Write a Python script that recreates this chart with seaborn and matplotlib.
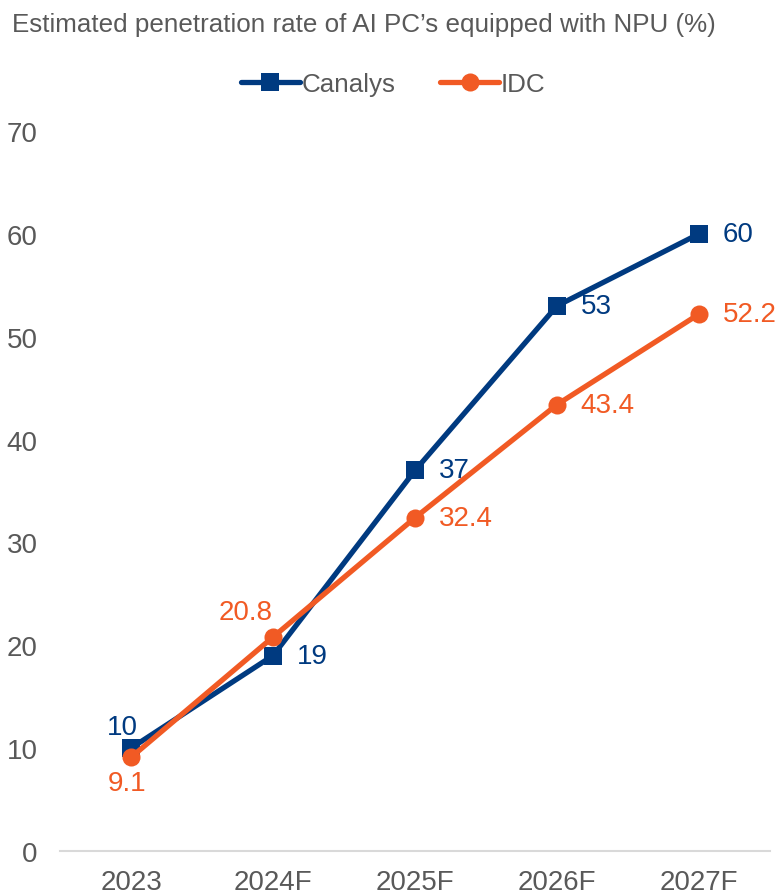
import pandas as pd
import matplotlib.pyplot as plt
import seaborn as sns

years = ["2023", "2024F", "2025F", "2026F", "2027F"]
canalys = [10, 19, 37, 53, 60]
idc = [9.1, 20.8, 32.4, 43.4, 52.2]

NAVY = "#003A80"
ORANGE = "#F15A24"
GREY = "#595959"

sns.set_style("white")
plt.rcParams['font.family'] = ['Liberation Sans', 'DejaVu Sans']

df = pd.DataFrame({"year": years, "Canalys": canalys, "IDC": idc})

fig = plt.figure(figsize=(7.76, 8.95), dpi=100)
ax = fig.add_axes([60 / 776, 43 / 895, 710 / 776, 720 / 895])

sns.lineplot(data=df, x="year", y="Canalys", ax=ax, color=NAVY, linewidth=3.8,
             marker="s", markersize=12.5, markeredgewidth=0, label="Canalys", sort=False)
sns.lineplot(data=df, x="year", y="IDC", ax=ax, color=ORANGE, linewidth=3.8,
             marker="o", markersize=13, markeredgewidth=0, label="IDC", sort=False)

# data labels
LBL = 20
for i, v in enumerate(canalys):
    if i == 0:
        ax.annotate(f"{v:g}", (i, v), xytext=(-6, 6), textcoords="offset points",
                    ha="center", va="bottom", fontsize=LBL, color=NAVY)
    else:
        ax.annotate(f"{v:g}", (i, v), xytext=(17, 0), textcoords="offset points",
                    ha="left", va="center", fontsize=LBL, color=NAVY)
for i, v in enumerate(idc):
    if i == 0:
        ax.annotate(f"{v:g}", (i, v), xytext=(-3, -9), textcoords="offset points",
                    ha="center", va="top", fontsize=LBL, color=ORANGE)
    elif i == 1:
        ax.annotate(f"{v:g}", (i, v), xytext=(-20, 9), textcoords="offset points",
                    ha="center", va="bottom", fontsize=LBL, color=ORANGE)
    else:
        ax.annotate(f"{v:g}", (i, v), xytext=(17, 0), textcoords="offset points",
                    ha="left", va="center", fontsize=LBL, color=ORANGE)

ax.set_xlim(-0.5, 4.5)
ax.set_ylim(0, 70)
ax.set_yticks(range(0, 71, 10))
ax.set_xlabel("")
ax.set_ylabel("")
ax.tick_params(axis="both", length=0, labelsize=LBL, colors=GREY)
ax.tick_params(axis="y", pad=16)
ax.tick_params(axis="x", pad=13)
for s in ["top", "right", "left"]:
    ax.spines[s].set_visible(False)
ax.spines["bottom"].set_color("#D9D9D9")
ax.spines["bottom"].set_linewidth(1.5)

fig.text(12 / 776, 1 - 25 / 895, "Estimated penetration rate of AI PC\u2019s equipped with NPU (%)",
         fontsize=18.7, color=GREY, ha="left", va="center")

leg = ax.legend(loc="center", bbox_to_anchor=(393 / 776, 1 - 85 / 895),
                bbox_transform=fig.transFigure, ncol=2, frameon=False, fontsize=18.7,
                handlelength=2.3, columnspacing=1.7, handletextpad=0.05)
for t in leg.get_texts():
    t.set_color(GREY)

fig.savefig("out.png", dpi=100)
